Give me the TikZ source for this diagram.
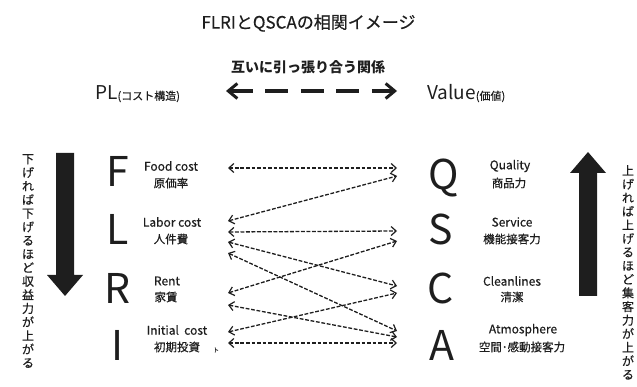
\documentclass[tikz,border=0pt]{standalone}
\usepackage{fontspec}
\setmainfont{Noto Sans CJK JP}
\newfontfamily\medfont[FakeBold=0.5]{Noto Sans CJK JP}
\usetikzlibrary{arrows.meta}
\definecolor{ink}{HTML}{1E1E1E}
\tikzset{
  bigletter/.style={font=\fontsize{41}{41}\selectfont, inner sep=0pt, anchor=base, text=ink},
  lab/.style={font=\medfont\fontsize{12}{12}\selectfont, inner sep=0pt, text=ink},
  jlab/.style={font=\medfont\fontsize{11.5}{11.5}\selectfont, inner sep=0pt, text=ink},
  vtext/.style={font=\medfont\fontsize{12}{13.6}\selectfont, inner sep=0pt, align=center, anchor=north, text=ink},
  conn/.style={draw=ink, line width=1.3pt, dash pattern=on 3.8pt off 1.7pt,
    {Straight Barb[length=5pt,width=9pt,line width=1.2pt]}-{Straight Barb[length=5pt,width=9pt,line width=1.2pt]}},
  hdr/.style={draw=ink, line width=4pt, dash pattern=on 23pt off 12.5pt,
    {Straight Barb[length=9pt,width=15pt,line width=3pt]}-{Straight Barb[length=9pt,width=15pt,line width=3pt]}},
  bigarrow/.style={fill=ink, draw=none}
}
\begin{document}
\begin{tikzpicture}[x=1pt,y=-1pt]
\useasboundingbox (0,0) rectangle (637,387);
% titles
\node[inner sep=0pt, text=ink, font=\medfont\fontsize{17}{17}\selectfont] (title) at (308.5,23) {FLRIとQSCAの相関イメージ};
\node[inner sep=0pt, text=ink, font=\fontsize{14}{14}\selectfont\bfseries] (pull) at (308,67) {互いに引っ張り合う関係};
\node[inner sep=0pt, anchor=base west, text=ink, font=\fontsize{19}{19}\selectfont] (pl) at (95,100) {PL{\medfont\fontsize{11}{11}\selectfont(コスト構造)}};
\node[inner sep=0pt, anchor=base west, text=ink, font=\fontsize{19}{19}\selectfont] (val) at (427,100) {Value{\medfont\fontsize{11}{11}\selectfont(価値)}};
\coordinate (ha) at (226,91);
\coordinate (hb) at (397,91);
\draw[hdr] (ha) -- (hb);
% big arrows
\fill[bigarrow] (56,153) -- (74,153) -- (74,275) -- (83,275) -- (65,296) -- (47,275) -- (56,275) -- cycle;
\fill[bigarrow] (579,296) -- (597,296) -- (597,173) -- (606,173) -- (588,152) -- (570,173) -- (579,173) -- cycle;
% vertical texts
\node[vtext] (vl) at (28,154) {下\\げ\\れ\\ば\\下\\げ\\る\\ほ\\ど\\収\\益\\力\\が\\上\\が\\る};
\node[vtext] (vr) at (628,165) {上\\げ\\れ\\ば\\上\\げ\\る\\ほ\\ど\\集\\客\\力\\が\\上\\が\\る};
% big letters
\node[bigletter] (F) at (118,187) {F};
\node[bigletter] (L) at (118,245) {L};
\node[bigletter] (R) at (118,303) {R};
\node[bigletter] (I) at (118,360) {I};
\node[bigletter] (Q) at (444,190) {Q};
\node[bigletter] (S) at (441,245) {S};
\node[bigletter] (C) at (441,303) {C};
\node[bigletter] (A) at (442,360) {A};
% left labels
\node[lab]  (fe) at (171,166) {Food cost};
\node[jlab] (fj) at (171,183) {原価率};
\node[lab]  (le) at (172,222) {Labor cost};
\node[jlab] (lj) at (171,239) {人件費};
\node[lab]  (re) at (167,281) {Rent};
\node[jlab] (rj) at (166,297) {家賃};
\node[lab]  (ie) at (177,330) {Initial\ \ cost};
\node[jlab] (ij) at (177,347) {初期投資};
\node[inner sep=0pt, text=ink, font=\medfont\fontsize{6}{6}\selectfont] (tmark) at (216,350) {ト};
% right labels
\node[lab]  (qe) at (510,166) {Quality};
\node[jlab] (qj) at (509,183) {商品力};
\node[lab]  (se) at (512,222) {Service};
\node[jlab] (sj) at (512,239) {機能接客力};
\node[lab]  (ce) at (512,281) {Cleanlines};
\node[jlab] (cj) at (512,297) {清潔};
\node[lab]  (ae) at (523,330) {Atmosphere};
\node[jlab] (aj) at (522,347) {空間･感動接客力};
% connector ends
\coordinate (lF)  at (228,168);
\coordinate (lL1) at (228,221);
\coordinate (lL2) at (228,232);
\coordinate (lL3) at (228,242);
\coordinate (lL4) at (228,253);
\coordinate (lR1) at (228,293);
\coordinate (lR2) at (228,305);
\coordinate (lI1) at (228,332);
\coordinate (lI2) at (228,343);
\coordinate (rQ1) at (397,168);
\coordinate (rQ2) at (397,176);
\coordinate (rS1) at (397,231);
\coordinate (rS2) at (397,241);
\coordinate (rC1) at (397,286);
\coordinate (rC2) at (397,293);
\coordinate (rA1) at (397,331);
\coordinate (rA2) at (397,337);
\coordinate (rA3) at (397,343);
\draw[conn] (lF) -- (rQ1);
\draw[conn] (lL1) -- (rQ2);
\draw[conn] (lL2) -- (rS1);
\draw[conn] (lL3) -- (rC1);
\draw[conn] (lL4) -- (rA1);
\draw[conn] (lR1) -- (rS2);
\draw[conn] (lR2) -- (rA2);
\draw[conn] (lI1) -- (rC2);
\draw[conn] (lI2) -- (rA3);
\end{tikzpicture}
\end{document}
